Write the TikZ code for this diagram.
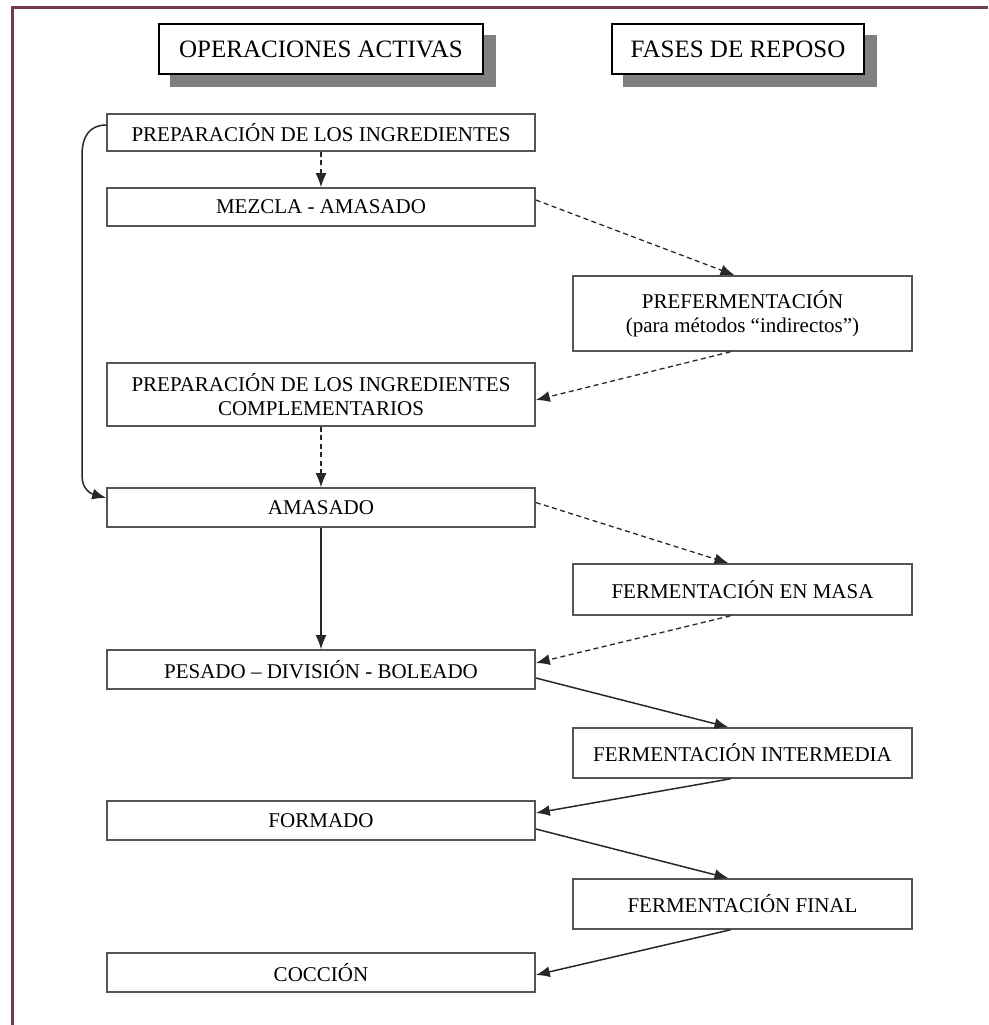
\documentclass[tikz,border=0pt]{standalone}
\usepackage{fontspec}
\setmainfont{Liberation Serif}
\usetikzlibrary{arrows.meta,backgrounds}
\definecolor{framered}{RGB}{115,60,70}
\definecolor{boxgray}{RGB}{85,85,85}
\definecolor{arrowgray}{RGB}{40,40,40}
\definecolor{shadowgray}{RGB}{128,128,128}
\begin{document}
\begin{tikzpicture}[x=1pt,y=-1pt,
  headbox/.style={draw=black,line width=2.2pt,fill=white,minimum height=50pt,inner sep=0pt,font=\fontsize{25}{30}\selectfont},
  leftbox/.style={draw=boxgray,line width=1.6pt,minimum width=428pt,inner sep=0pt,align=center,font=\fontsize{21}{24}\selectfont},
  rightbox/.style={leftbox,minimum width=339pt},
  dasharrow/.style={draw=arrowgray,line width=1.3pt,dash pattern=on 5pt off 3.5pt,-{Latex[length=14pt,width=11pt]}},
  solidarrow/.style={draw=arrowgray,line width=1.5pt,-{Latex[length=14pt,width=11pt]}}]
\useasboundingbox (0,0) rectangle (988,1025);
% frame
\draw[framered,line width=3pt] (12,1025) -- (12,8) -- (988,8);
% headers
\node[headbox,minimum width=324pt] (ops) at (321,49) {OPERACIONES ACTIVAS};
\node[headbox,minimum width=252pt] (fases) at (738,49) {FASES DE REPOSO};
\begin{scope}[on background layer]
\fill[shadowgray] ([shift={(12,12)}]ops.north west) rectangle ([shift={(12,12)}]ops.south east);
\fill[shadowgray] ([shift={(12,12)}]fases.north west) rectangle ([shift={(12,12)}]fases.south east);
\end{scope}
% active operations
\node[leftbox,minimum height=37pt] (prep) at (321,132.5) {PREPARACIÓN DE LOS INGREDIENTES};
\node[leftbox,minimum height=38pt] (mezcla) at (321,207) {MEZCLA - AMASADO};
\node[leftbox,minimum height=63pt] (complem) at (321,394.5) {PREPARACIÓN DE LOS INGREDIENTES\\COMPLEMENTARIOS};
\node[leftbox,minimum height=39pt] (amasado) at (321,507.5) {AMASADO};
\node[leftbox,minimum height=39pt] (pesado) at (321,669.5) {PESADO – DIVISIÓN - BOLEADO};
\node[leftbox,minimum height=39pt] (formado) at (321,820.5) {FORMADO};
\node[leftbox,minimum height=39pt] (coccion) at (321,972.5) {COCCIÓN};
% resting phases
\node[rightbox,minimum height=75pt] (preferm) at (742.5,313.5) {PREFERMENTACIÓN\\(para métodos “indirectos”)};
\node[rightbox,minimum height=51pt] (masa) at (742.5,589.5) {FERMENTACIÓN EN MASA};
\node[rightbox,minimum height=50pt] (intermedia) at (742.5,753) {FERMENTACIÓN INTERMEDIA};
\node[rightbox,minimum height=50pt] (final) at (742.5,904) {FERMENTACIÓN FINAL};
% straight down
\draw[dasharrow] (prep.south) -- (mezcla.north);
\draw[dasharrow] (complem.south) -- (amasado.north);
\draw[solidarrow] (amasado.south) -- (pesado.north);
% bypass on the left
\coordinate (looptop) at (82,155);
\coordinate (loopbot) at (82,476);
\draw[solidarrow] ([yshift=7.5pt]prep.west) .. controls (90,125) and (82,136) .. (looptop)
  -- (loopbot) .. controls (82,490) and (92,494) .. ([yshift=9.5pt]amasado.west);
% out to the resting phases and back
\draw[dasharrow] ([yshift=7pt]mezcla.east) -- ([xshift=-8pt]preferm.north);
\draw[dasharrow] ([xshift=-12pt]preferm.south) -- ([yshift=-5.5pt]complem.east);
\draw[dasharrow] ([yshift=5pt]amasado.east) -- ([xshift=-14pt]masa.north);
\draw[dasharrow] ([xshift=-12pt]masa.south) -- ([yshift=6.5pt]pesado.east);
\draw[solidarrow] ([yshift=-8.5pt]pesado.east) -- ([xshift=-14pt]intermedia.north);
\draw[solidarrow] ([xshift=-12pt]intermedia.south) -- ([yshift=7.5pt]formado.east);
\draw[solidarrow] ([yshift=-8.5pt]formado.east) -- ([xshift=-14pt]final.north);
\draw[solidarrow] ([xshift=-12pt]final.south) -- ([yshift=-2.5pt]coccion.east);
\end{tikzpicture}
\end{document}
